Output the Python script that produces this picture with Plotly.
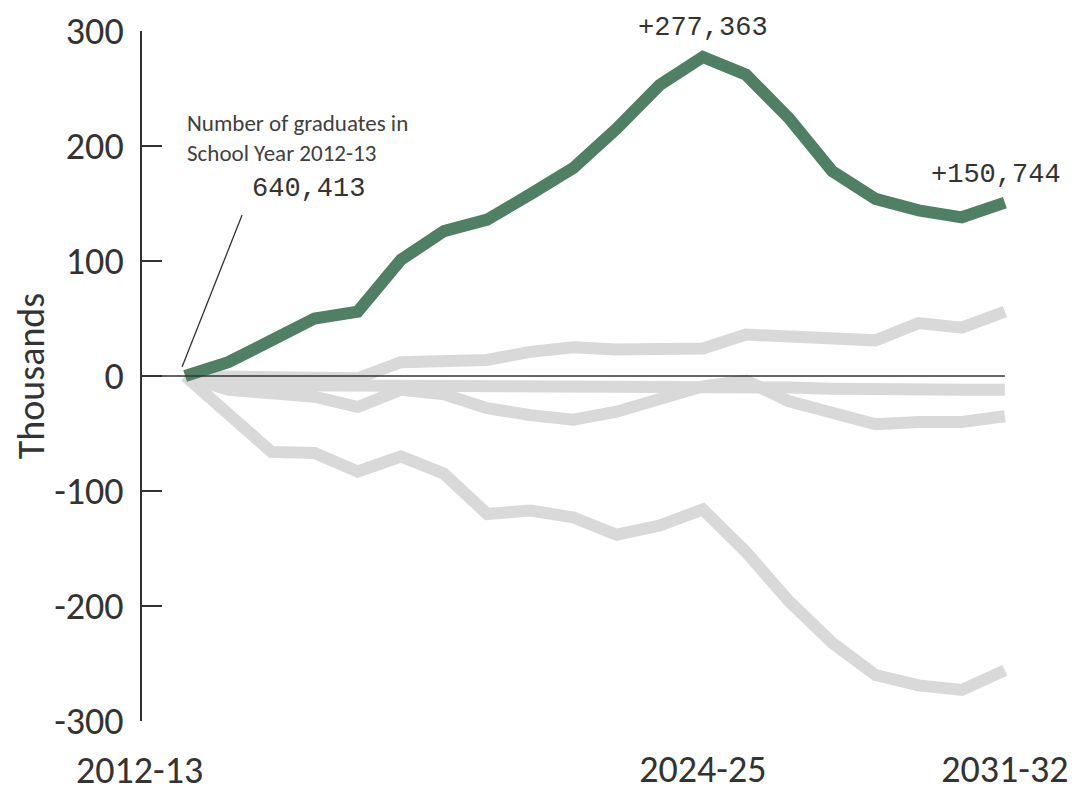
import plotly.graph_objects as go

years = ['2012-13', '2013-14', '2014-15', '2015-16', '2016-17', '2017-18', '2018-19',
         '2019-20', '2020-21', '2021-22', '2022-23', '2023-24', '2024-25', '2025-26',
         '2026-27', '2027-28', '2028-29', '2029-30', '2030-31', '2031-32']

# change vs 2012-13, thousands of graduates
highlight = [0, 12, 31, 50, 56, 101, 126, 136, 158, 181, 215, 253, 277.363, 262, 224,
             178, 154, 144, 138, 150.744]
other_up = [0, 0, -1, -2, -2, 12, 12, 14, 21, 25, 23, 23, 24, 36, 34, 31, 31, 46, 42, 56]
other_flat = [0, -7, -8, -8, -8, -8, -8, -8, -8, -8, -9, -10, -10, -10, -10, -11, -12,
              -12, -12, -12]
other_mid = [0, -12, -15, -18, -27, -12, -16, -28, -34, -38, -31, -21, -9, -4, -22, -32,
             -42, -40, -40, -35]
other_low = [0, -33, -66, -67, -83, -70, -85, -120, -117, -123, -138, -130, -116, -153,
             -196, -232, -260, -269, -273, -256]

yticks = [-300, -200, -100, 0, 100, 200, 300]
yticklabels = ['-300', '-200', '-100', '0', '100', '200', '300']

GREEN = '#4f7f64'
GREY = '#d9d9d9'
INK = '#333333'
LABEL_FONT = 'Carlito, Liberation Sans Narrow, Liberation Sans, sans-serif'
NUM_FONT = 'Liberation Mono, DejaVu Sans Mono, monospace'

fig = go.Figure()
for s in [other_low, other_mid, other_flat, other_up]:
    fig.add_trace(go.Scatter(x=years, y=s, mode='lines',
                             line=dict(color=GREY, width=12), hoverinfo='skip'))
fig.add_trace(go.Scatter(x=years, y=highlight, mode='lines',
                         line=dict(color=GREEN, width=12)))

# zero line and leader line
fig.add_shape(type='line', xref='x', yref='y', x0=-1, x1=19, y0=0, y1=0,
              line=dict(color=INK, width=1.5), layer='above')
fig.add_shape(type='line', xref='x', yref='y', x0=-0.07, y0=8, x1=1.32, y1=140,
              line=dict(color=INK, width=1.3), layer='above')

fig.add_annotation(x=0, y=207, xref='x', yref='y', xanchor='left', yanchor='middle',
                   align='left', showarrow=False,
                   text='Number of graduates in<br>School Year 2012-13',
                   font=dict(family='Carlito, Liberation Sans, sans-serif', size=23,
                             color='#404040'))
fig.add_annotation(x=2.85, y=163, xref='x', yref='y', showarrow=False, text='640,413',
                   font=dict(family=NUM_FONT, size=27, color=INK))
fig.add_annotation(x=12, y=300, xref='x', yref='y', yshift=3, showarrow=False,
                   text='+277,363', font=dict(family=NUM_FONT, size=27, color=INK))
fig.add_annotation(x=18.8, y=175, xref='x', yref='y', showarrow=False, text='+150,744',
                   font=dict(family=NUM_FONT, size=27, color=INK))
fig.add_annotation(x=years[0], y=0, xref='x', yref='paper', xanchor='center',
                   yanchor='top', xshift=-46, yshift=-24, showarrow=False, text=years[0],
                   font=dict(family=LABEL_FONT, size=38, color=INK))

fig.update_xaxes(range=[-1, 20], showline=False, showgrid=False, zeroline=False,
                 ticks='', tickvals=['2024-25', '2031-32'], automargin=False,
                 ticklabelstandoff=22,
                 tickfont=dict(family=LABEL_FONT, size=38, color=INK))
fig.update_yaxes(range=[-300, 300], showline=True, linecolor=INK, linewidth=1.5,
                 showgrid=False, zeroline=False, ticks='inside', ticklen=20,
                 tickcolor=INK, tickwidth=1.5, tickvals=yticks, ticktext=yticklabels,
                 ticklabelstandoff=9, automargin=False,
                 tickfont=dict(family=LABEL_FONT, size=38, color=INK),
                 title=dict(text='Thousands', standoff=6,
                            font=dict(family=LABEL_FONT, size=38, color=INK)))
# page body adds ~8px offset, margins compensate
fig.update_layout(width=1078, height=792, showlegend=False,
                  paper_bgcolor='white', plot_bgcolor='white',
                  margin=dict(l=134, r=38, t=23, b=79))

fig.write_html('out.html')
